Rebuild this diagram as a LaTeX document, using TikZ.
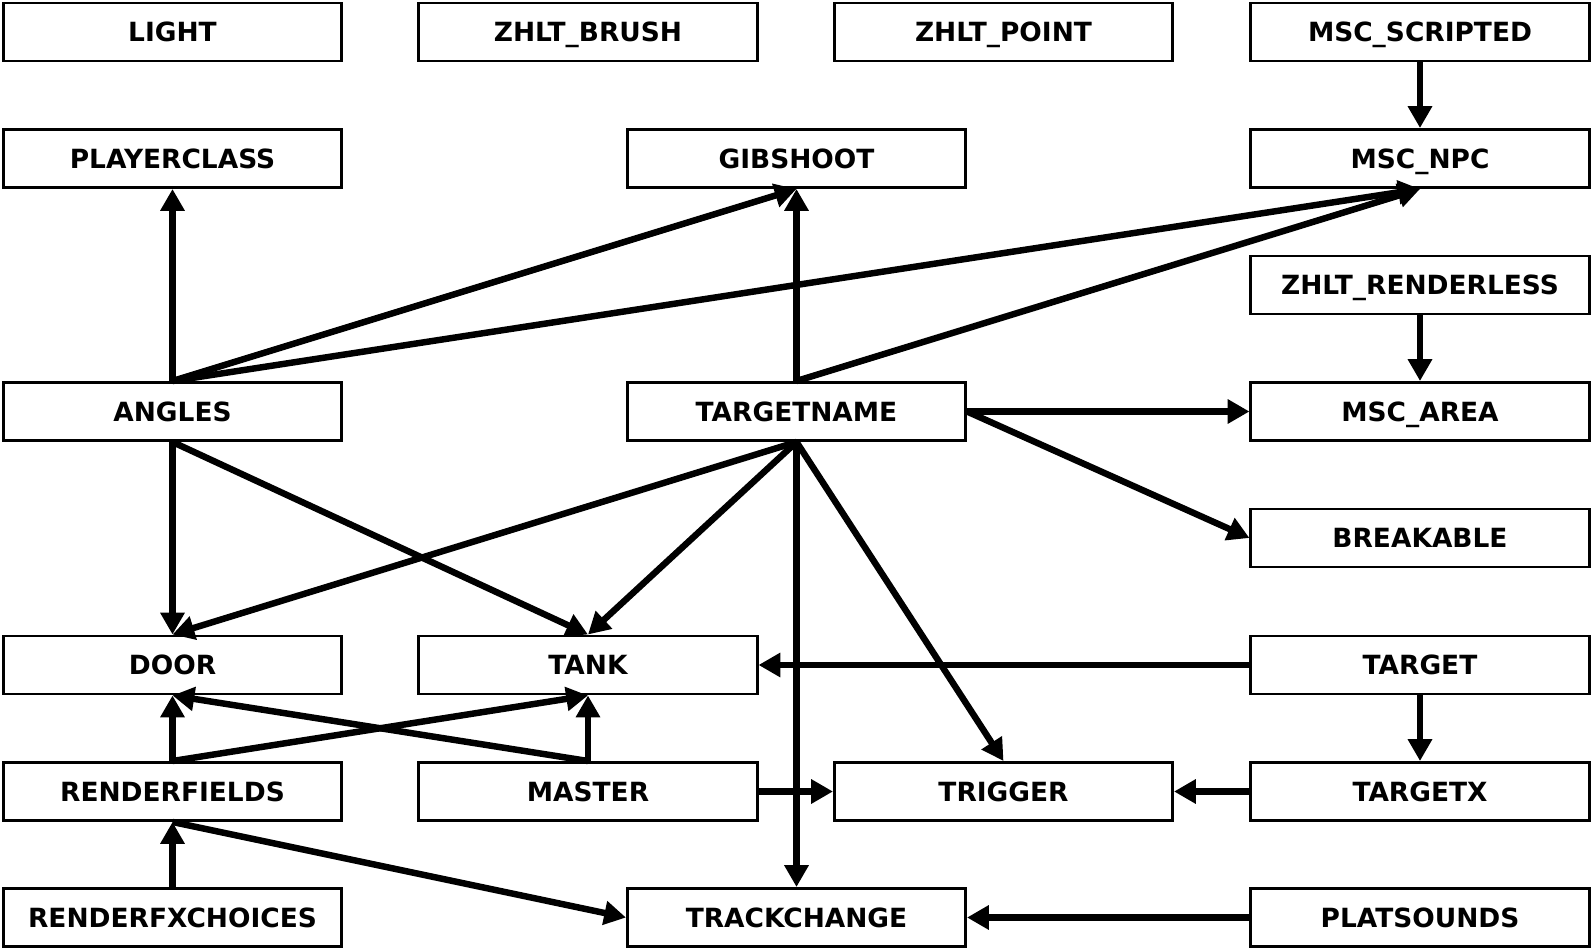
\documentclass[tikz,border=0pt]{standalone}
\usepackage{fontspec}
\setmainfont{DejaVu Sans}
\usetikzlibrary{arrows.meta}
\tikzset{
  box/.style={draw, line width=2.1pt, minimum width=8.45cm, minimum height=1.45cm,
    inner sep=0pt, text height=13.7pt, text depth=0pt,
    font=\fontsize{18.8}{22}\selectfont\bfseries},
  link/.style={line width=4.6pt, -{Triangle[length=15.5pt,width=16.5pt]}}
}
\begin{document}
\begin{tikzpicture}[x=0.025cm,y=-0.025cm]
            \useasboundingbox (0,0) rectangle (1594,951);
            % first rows
            \node[box](light) at (172.5,32){LIGHT};
            \node[box](zbrush) at (588,32){ZHLT\_BRUSH};
            \node[box](zpoint) at (1003.5,32){ZHLT\_POINT};
            \node[box](mscscripted) at (1420,32){MSC\_SCRIPTED};
            \node[box](playerclass) at (172.5,158.5){PLAYERCLASS};
            \node[box](gibshoot) at (796.5,158.5){GIBSHOOT};
            \node[box](mscnpc) at (1420,158.5){MSC\_NPC};
            \node[box](zrenderless) at (1420,285){ZHLT\_RENDERLESS};
            \node[box](angles) at (172.5,411.5){ANGLES};
            \node[box](targetname) at (796.5,411.5){TARGETNAME};
            \node[box](mscarea) at (1420,411.5){MSC\_AREA};
            \node[box](breakable) at (1420,538){BREAKABLE};
            % lower rows
            \node[box](door) at (172.5,665){DOOR};
            \node[box](tank) at (588,665){TANK};
            \node[box](target) at (1420,665){TARGET};
            \node[box](renderfields) at (172.5,791.5){RENDERFIELDS};
            \node[box](master) at (588,791.5){MASTER};
            \node[box](trigger) at (1003.5,791.5){TRIGGER};
            \node[box](targetx) at (1420,791.5){TARGETX};
            \node[box](renderfx) at (172.5,917.5){RENDERFXCHOICES};
            \node[box](trackchange) at (796.5,917.5){TRACKCHANGE};
            \node[box](platsounds) at (1420,917.5){PLATSOUNDS};
            % links
            \draw[link] (mscscripted.south) -- (mscnpc.north);
            \draw[link] (zrenderless.south) -- (mscarea.north);
            \foreach \to in {playerclass,gibshoot,mscnpc}
                \draw[link] (angles.north) -- (\to.south);
            \foreach \to in {gibshoot,mscnpc}
                \draw[link] (targetname.north) -- (\to.south);
            \draw[link] (targetname.east) -- (mscarea.west);
            \draw[link] (targetname.east) -- (breakable.west);
            \foreach \to in {door,tank}
                \draw[link] (angles.south) -- (\to.north);
            \foreach \to in {door,tank,trigger,trackchange}
                \draw[link] (targetname.south) -- (\to.north);
            \draw[link] (target.west) -- (tank.east);
            \draw[link] (target.south) -- (targetx.north);
            \draw[link] (targetx.west) -- (trigger.east);
            \foreach \from in {renderfields,master} {
                \draw[link] (\from.north) -- (door.south);
                \draw[link] (\from.north) -- (tank.south);
            }
            \draw[link] (master.east) -- (trigger.west);
            \draw[link] (renderfx.north) -- (renderfields.south);
            \draw[link] (renderfields.south) -- (trackchange.west);
            \draw[link] (platsounds.west) -- (trackchange.east);
        \end{tikzpicture}
\end{document}
